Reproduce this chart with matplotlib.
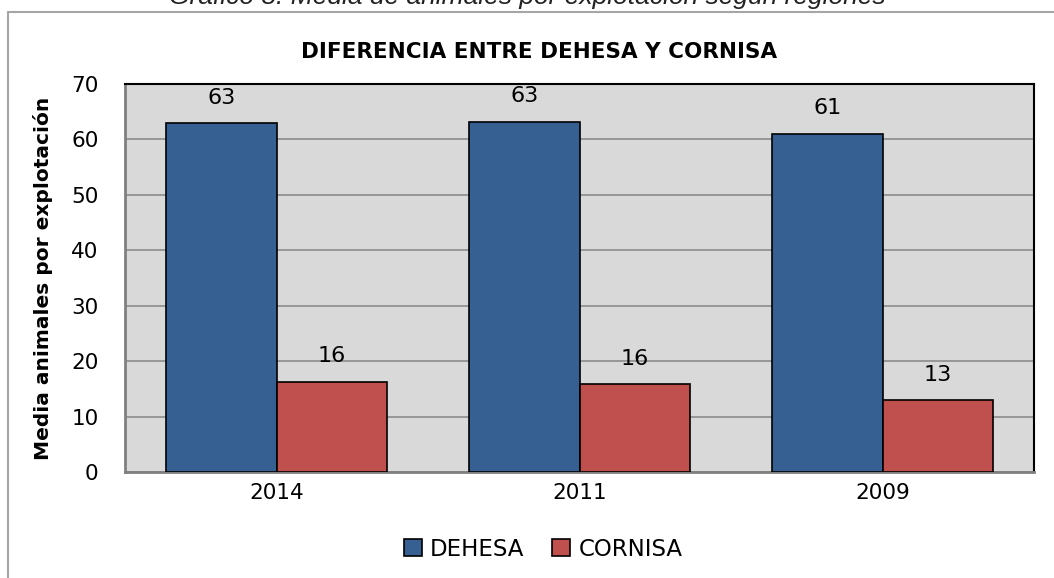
import numpy as np
import matplotlib.pyplot as plt
from matplotlib.patches import Rectangle

years = ["2014", "2011", "2009"]
dehesa = [62.9, 63.2, 61.0]
cornisa = [16.3, 15.8, 12.9]
dehesa_labels = ["63", "63", "61"]
cornisa_labels = ["16", "16", "13"]

plt.rcParams['font.family'] = ['DejaVu Sans']

fig = plt.figure(figsize=(10.54, 5.78), dpi=100)

# outer chart frame (only top/left visible in the crop)
fig.patches.append(Rectangle((8 / 1054, -0.1), 1.2, (578 - 12) / 578 + 0.1,
                             transform=fig.transFigure, fill=False,
                             edgecolor="#a6a6a6", linewidth=1.5))

# caption cut off at the top of the picture
fig.text(0.5, 1.0 + 3 / 578, "Gráfico 8: Media de animales por explotación según regiones",
         ha="center", va="center", fontsize=19, style="italic",
         family=["Liberation Sans", "DejaVu Sans"], color="#222222")

ax = fig.add_axes([125 / 1054, (578 - 472) / 578, (1034 - 125) / 1054, (472 - 84) / 578])
ax.set_facecolor("#d9d9d9")

x = np.arange(len(years))
w = 0.365
b1 = ax.bar(x - w / 2, dehesa, w, color="#366092", edgecolor="black", linewidth=1.2,
            label="DEHESA", zorder=3)
b2 = ax.bar(x + w / 2, cornisa, w, color="#c0504d", edgecolor="black", linewidth=1.2,
            label="CORNISA", zorder=3)

for rect, lab in zip(b1, dehesa_labels):
    ax.text(rect.get_x() + rect.get_width() / 2, rect.get_height() + 4.6, lab,
            ha="center", va="center", fontsize=16)
for rect, lab in zip(b2, cornisa_labels):
    ax.text(rect.get_x() + rect.get_width() / 2, rect.get_height() + 4.6, lab,
            ha="center", va="center", fontsize=16)

ax.set_xlim(-0.5, 2.5)
ax.set_ylim(0, 70)
ax.set_yticks(range(0, 71, 10))
ax.set_xticks(x)
ax.set_xticklabels(years)
ax.tick_params(axis="both", length=0, labelsize=15.5)
ax.tick_params(axis="x", pad=8)
ax.tick_params(axis="y", pad=19)
ax.yaxis.grid(True, color="#8c8c8c", linewidth=1.2, zorder=1)
ax.set_axisbelow(True)

for side in ["left", "bottom"]:
    ax.spines[side].set_color("#808080")
    ax.spines[side].set_linewidth(2)
for side in ["top", "right"]:
    ax.spines[side].set_color("black")
    ax.spines[side].set_linewidth(1.5)

ax.set_ylabel("Media animales por explotación", fontsize=14.5, fontweight="bold",
              family=["Liberation Sans Narrow", "DejaVu Sans"])
ax.yaxis.set_label_coords(-72 / 909, 0.5)

fig.text(539 / 1054, (578 - 52) / 578, "DIFERENCIA ENTRE DEHESA Y CORNISA", ha="center",
         va="center", fontsize=15.5, fontweight="bold",
         family=["Liberation Sans Narrow", "DejaVu Sans"])

ax.legend(loc="center", bbox_to_anchor=(543 / 1054, 29 / 578), bbox_transform=fig.transFigure,
          ncol=2, frameon=False, fontsize=16.5, handlelength=0.8, handleheight=0.8,
          handletextpad=0.35, columnspacing=1.2)

fig.savefig("out.png", dpi=100)
